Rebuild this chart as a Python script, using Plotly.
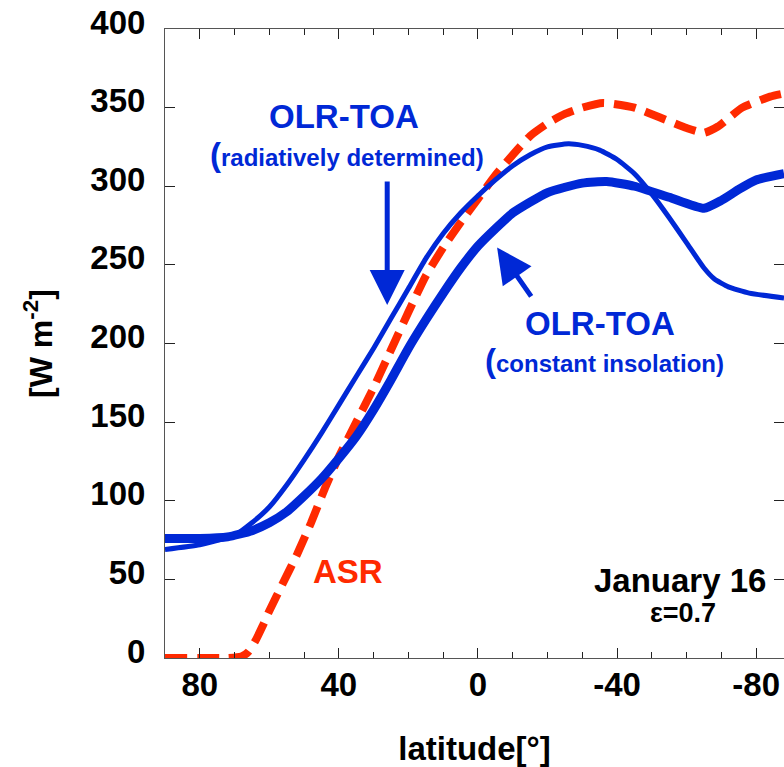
import plotly.graph_objects as go

# ---- data ----
lat_rad = [90, 80, 70, 65, 60, 55, 50, 45, 40, 35, 30, 25, 20, 15, 10, 5, 0, -5, -10, -15, -20, -26, -30, -35, -40, -45, -50, -55, -60, -65, -68, -72, -78, -88]
olr_rad = [69, 72, 78, 86, 96, 110, 126, 143, 161, 179, 197, 216, 235, 254, 270, 283, 294, 304, 313, 320, 325, 327, 326, 323, 317, 308, 295, 280, 264, 248, 241, 236, 232, 229]

lat_const = [90, 80, 72, 65, 60, 55, 50, 45, 40, 35, 30, 25, 20, 15, 10, 5, 0, -5, -10, -20, -30, -37, -45, -55, -65, -70, -75, -80, -88]
olr_const = [76, 76, 77, 81, 86, 93, 103, 114, 127, 141, 158, 177, 197, 215, 232, 248, 262, 273, 283, 296, 302, 303, 300, 293, 286, 291, 298, 304, 308]

lat_asr = [90, 80, 72, 68, 66, 64, 62, 60, 56, 52, 48, 44, 40, 35, 30, 25, 20, 15, 10, 5, 0, -5, -10, -15, -20, -25, -30, -36, -45, -52, -60, -65, -69, -76, -84, -88]
asr = [0, 0, 0, 1, 4, 11, 20, 30, 48, 66, 86, 108, 128, 150, 172, 196, 220, 243, 261, 277, 292, 307, 320, 332, 340, 346, 350, 353, 350, 344, 337, 334, 338, 350, 357, 359]

x_ticks = [80, 40, 0, -40, -80]
y_ticks = [0, 50, 100, 150, 200, 250, 300, 350, 400]

BLUE = "#0028D6"
RED = "#FF2A00"
FONT = "Liberation Sans, Arial, sans-serif"

fig = go.Figure()
fig.add_trace(go.Scatter(x=lat_asr, y=asr, mode="lines",
                         line=dict(color=RED, width=8, dash="22px,10px", shape="spline", smoothing=0.5),
                         showlegend=False, hoverinfo="skip"))
fig.add_trace(go.Scatter(x=lat_const, y=olr_const, mode="lines",
                         line=dict(color=BLUE, width=9, shape="spline", smoothing=0.5),
                         showlegend=False, hoverinfo="skip"))
fig.add_trace(go.Scatter(x=lat_rad, y=olr_rad, mode="lines",
                         line=dict(color=BLUE, width=5, shape="spline", smoothing=0.5),
                         showlegend=False, hoverinfo="skip"))

tickfont = dict(family=FONT, size=33, color="black", weight="bold")

fig.update_xaxes(range=[90, -88.0], tickvals=x_ticks, ticktext=[str(v) for v in x_ticks],
                 ticks="inside", ticklen=10, tickwidth=1, tickcolor="#222",
                 minor=dict(dtick=10, ticks="inside", ticklen=6, tickwidth=1, tickcolor="#222"),
                 showline=True, linecolor="#555", linewidth=1, mirror="ticks",
                 showgrid=False, zeroline=False, tickfont=tickfont,
                 ticklabelstandoff=-3,
                 title=dict(text="latitude[°]", font=dict(family=FONT, size=33, color="black", weight="bold"),
                            standoff=36))
fig.update_yaxes(range=[0, 400], tickvals=y_ticks,
                 ticks="inside", ticklen=10, tickwidth=1, tickcolor="#222",
                 showline=True, linecolor="#555", linewidth=1, mirror="ticks",
                 showgrid=False, zeroline=False, tickfont=tickfont,
                 ticklabelstandoff=12, ticklabelshift=-7,
                 title=dict(text="[W m<sup>-2</sup>]", font=dict(family=FONT, size=32, color="black", weight="bold"),
                            standoff=28))

def txt(x, y, text, size, color, weight="bold"):
    fig.add_annotation(x=x, y=y, xref="x", yref="y", text=text, showarrow=False,
                       font=dict(family=FONT, size=size, color=color, weight=weight),
                       xanchor="center", yanchor="middle")

txt(38.6, 344.5, "OLR-TOA", 33, BLUE)
txt(37.8, 320.5, "<span style='font-size:33px'>(</span>radiatively determined)", 24, BLUE)
txt(-35.1, 213, "OLR-TOA", 33, BLUE)
txt(-36.3, 189.5, "<span style='font-size:33px'>(</span>constant insolation)", 24, BLUE)
txt(37.3, 54.7, "ASR", 33, RED)
txt(-58.0, 49.6, "January 16", 33, "black")
txt(-59.0, 28.6, "ε=0.7", 27, "black")

# arrows
fig.add_annotation(x=26.1, y=224.5, ax=26.1, ay=304, xref="x", yref="y", axref="x", ayref="y",
                   text="", showarrow=True, arrowhead=2, arrowsize=1.4, arrowwidth=5,
                   arrowcolor=BLUE, standoff=0)
fig.add_annotation(x=-5.5, y=261, ax=-15.6, ay=229, xref="x", yref="y", axref="x", ayref="y",
                   text="", showarrow=True, arrowhead=2, arrowsize=1.4, arrowwidth=5,
                   arrowcolor=BLUE, standoff=0)

fig.update_layout(width=784, height=767, margin=dict(l=165, r=0, t=29, b=109),
                  paper_bgcolor="white", plot_bgcolor="white", showlegend=False)

fig.write_html("out.html")
